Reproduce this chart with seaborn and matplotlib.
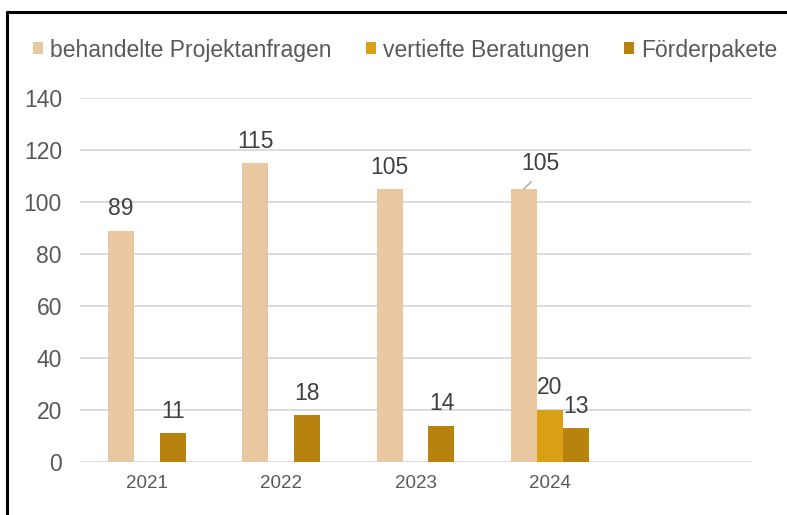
import numpy as np
import pandas as pd
import matplotlib
matplotlib.use("Agg")
import matplotlib.pyplot as plt
import seaborn as sns
from matplotlib.lines import Line2D

years = ["2021", "2022", "2023", "2024"]
series = ["behandelte Projektanfragen", "vertiefte Beratungen", "Förderpakete"]
anfragen = [89, 115, 105, 105]
beratungen = [np.nan, np.nan, np.nan, 20]
pakete = [11, 18, 14, 13]
colors = ["#E9C7A0", "#DAA015", "#B7830E"]
yticks = [0, 20, 40, 60, 80, 100, 120, 140]

rows = []
for s, vals in zip(series, [anfragen, beratungen, pakete]):
    for y, v in zip(years, vals):
        if not np.isnan(v):
            rows.append({"Jahr": y, "Serie": s, "Wert": v})
df = pd.DataFrame(rows)

sns.set_theme(style="white")
plt.rcParams["font.family"] = ["Liberation Sans", "DejaVu Sans"]

fig = plt.figure(figsize=(7.87, 5.15), dpi=100)
W, H = 787, 515
ax = fig.add_axes([80 / W, 1 - 462 / H, (751 - 80) / W, (462 - 98) / H])

order = years + [" "]
sns.barplot(data=df, x="Jahr", y="Wert", hue="Serie", order=order,
            hue_order=series, palette=colors, width=0.58, linewidth=0,
            saturation=1, ax=ax, legend=True)

ax.set_xlim(-0.5, 4.5)
ax.set_ylim(0, 140)
ax.set_yticks(yticks)
ax.set_xlabel("")
ax.set_ylabel("")
for sp in ax.spines.values():
    sp.set_visible(False)
ax.grid(axis="y", color="#d9d9d9", linewidth=1.3)
ax.set_axisbelow(True)
ax.tick_params(axis="y", length=0, pad=13, labelsize=16.5, labelcolor="#595959")
ax.tick_params(axis="x", length=0, pad=9, labelsize=13.5, labelcolor="#595959")

# data labels
for ci, cont in enumerate(ax.containers):
    for bi, p in enumerate(cont.patches):
        h = p.get_height()
        if not np.isfinite(h) or h == 0:
            continue
        xc = p.get_x() + p.get_width() / 2
        if ci == 0 and bi == 3:
            ax.annotate(f"{int(h)}", xy=(xc, h), xytext=(17, 26),
                        textcoords="offset pixels", xycoords="data",
                        ha="center", va="center", fontsize=16.5, color="#404040",
                        arrowprops=dict(arrowstyle="-", color="#a6a6a6", lw=1,
                                        relpos=(0.45, 0.0), shrinkA=4, shrinkB=0))
        else:
            ax.annotate(f"{int(h)}", xy=(xc, h), xytext=(0, 22),
                        textcoords="offset pixels", ha="center", va="center",
                        fontsize=16.5, color="#404040")

handles, labels = ax.get_legend_handles_labels()
if ax.legend_:
    ax.legend_.remove()
leg = fig.legend(handles, labels, loc="center", bbox_to_anchor=(405 / W, 1 - 50 / H),
                 ncol=3, frameon=False, fontsize=16.5, handlelength=0.45,
                 handleheight=0.45, handletextpad=0.3, columnspacing=1.5,
                 labelcolor="#595959")

# outer frame (left and top visible)
fig.add_artist(Line2D([7 / W, 7 / W], [0, 1 - 12 / H], transform=fig.transFigure,
                      color="black", lw=2.2))
fig.add_artist(Line2D([7 / W, 1], [1 - 12 / H, 1 - 12 / H], transform=fig.transFigure,
                      color="black", lw=2.2))

fig.savefig("out.png", dpi=100)
